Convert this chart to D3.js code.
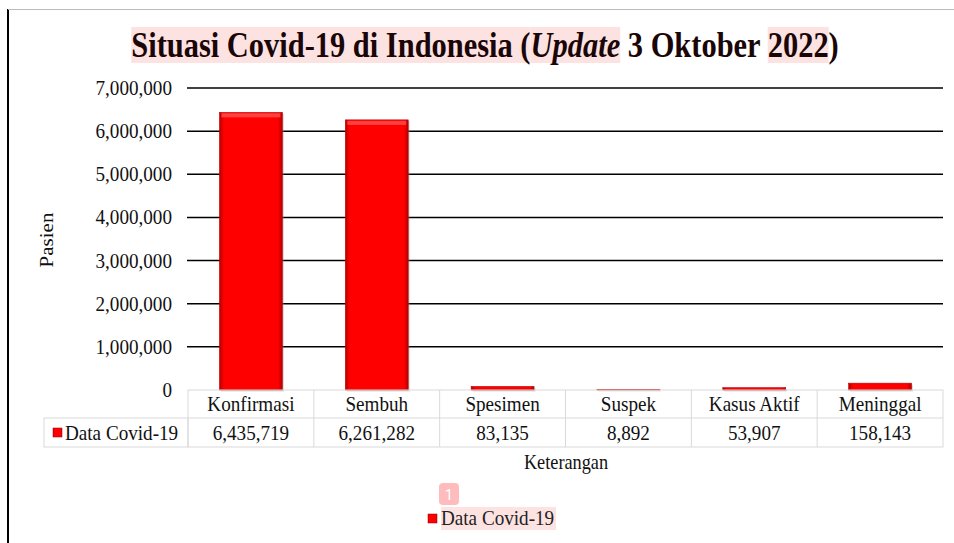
<!DOCTYPE html>
<html>
<head>
<meta charset="utf-8">
<script src="https://cdn.jsdelivr.net/npm/d3@7"></script>
<style>
  body { margin: 0; background: #fff; }
  svg { font-family: "Liberation Serif", "DejaVu Serif", serif; }
</style>
</head>
<body>
<div id="chart"></div>
<script>
const categories = ['Konfirmasi', 'Sembuh', 'Spesimen', 'Suspek', 'Kasus Aktif', 'Meninggal'];
const values = [6435719, 6261282, 83135, 8892, 53907, 158143];
const yTicks = [0, 1000000, 2000000, 3000000, 4000000, 5000000, 6000000, 7000000];
const seriesName = 'Data Covid-19';

const width = 954, height = 543;
const fmt = d3.format(',');
const SX = 0.87; // the source picture is horizontally squeezed

const svg = d3.select('#chart').append('svg')
    .attr('width', width)
    .attr('height', height);

// text helper: squeezed glyphs placed at (x, y)
function label(g, x, y, str, size, anchor) {
    return g.append('text')
        .attr('transform', `translate(${x},${y}) scale(${SX},1)`)
        .attr('text-anchor', anchor || 'start')
        .attr('font-size', size + 'px')
        .attr('fill', '#111')
        .text(str);
}

const defs = svg.append('defs');
const grad = defs.append('linearGradient').attr('id', 'barGrad')
    .attr('x1', '0%').attr('x2', '100%').attr('y1', '0%').attr('y2', '0%');
grad.append('stop').attr('offset', '0%').attr('stop-color', '#b40000');
grad.append('stop').attr('offset', '7%').attr('stop-color', '#ff0000');
grad.append('stop').attr('offset', '93%').attr('stop-color', '#ff0000');
grad.append('stop').attr('offset', '100%').attr('stop-color', '#b40000');

// outer frame
svg.append('line').attr('x1', 8).attr('x2', 8).attr('y1', 9).attr('y2', height)
    .attr('stroke', '#000').attr('stroke-width', 2);
svg.append('line').attr('x1', 8).attr('x2', width).attr('y1', 9.5).attr('y2', 9.5)
    .attr('stroke', '#bbb').attr('stroke-width', 1);

const x = d3.scaleBand().domain(categories).range([188, 943]).padding(0);
const y = d3.scaleLinear().domain([0, 7000000]).range([390, 88]);

// gridlines
svg.append('g').selectAll('line')
    .data(yTicks.filter(d => d > 0))
    .enter().append('line')
    .attr('x1', 187).attr('x2', 943)
    .attr('y1', d => y(d)).attr('y2', d => y(d))
    .attr('stroke', '#000').attr('stroke-width', 1.5);

// y tick labels
const yg = svg.append('g');
yTicks.forEach(d => label(yg, 172, y(d) + 7, fmt(d), 22, 'end'));

// bars
const bw = x.bandwidth() * 0.5;
const bars = svg.append('g').selectAll('g')
    .data(categories.map((c, i) => ({ c, v: values[i] })))
    .enter().append('g');
bars.append('rect')
    .attr('x', d => x(d.c) + (x.bandwidth() - bw) / 2 + 1.5)
    .attr('y', d => y(d.v) + 1.5)
    .attr('width', bw)
    .attr('height', d => 390 - y(d.v))
    .attr('fill', '#999').attr('opacity', 0.35);
bars.append('rect')
    .attr('x', d => x(d.c) + (x.bandwidth() - bw) / 2)
    .attr('y', d => y(d.v))
    .attr('width', bw)
    .attr('height', d => 390 - y(d.v))
    .attr('fill', 'url(#barGrad)')
    .attr('stroke', '#c00000').attr('stroke-width', 0.6);
bars.filter(d => 390 - y(d.v) > 20).append('rect')
    .attr('x', d => x(d.c) + (x.bandwidth() - bw) / 2 + 2)
    .attr('y', d => y(d.v) + 1)
    .attr('width', bw - 4)
    .attr('height', 4)
    .attr('fill', '#ff6a6a').attr('opacity', 0.6);

// data table
const tbl = svg.append('g');
const gridColor = '#d9d9d9';
tbl.append('rect').attr('x', 188).attr('y', 390).attr('width', 755).attr('height', 57)
    .attr('fill', 'none').attr('stroke', gridColor);
tbl.append('rect').attr('x', 44).attr('y', 418).attr('width', 144).attr('height', 29)
    .attr('fill', 'none').attr('stroke', gridColor);
tbl.append('line').attr('x1', 188).attr('x2', 943).attr('y1', 418).attr('y2', 418)
    .attr('stroke', gridColor);
tbl.selectAll('line.col')
    .data(categories.slice(1))
    .enter().append('line').attr('class', 'col')
    .attr('x1', d => x(d)).attr('x2', d => x(d))
    .attr('y1', 390).attr('y2', 447)
    .attr('stroke', gridColor);
categories.forEach((c, i) => {
    label(tbl, x(c) + x.bandwidth() / 2, 411, c, 22, 'middle');
    label(tbl, x(c) + x.bandwidth() / 2, 440, fmt(values[i]), 22, 'middle');
});
tbl.append('rect').attr('x', 53).attr('y', 428).attr('width', 9).attr('height', 9)
    .attr('fill', 'url(#barGrad)').attr('stroke', '#900').attr('stroke-width', 0.5);
label(tbl, 65, 440, seriesName, 22, 'start');

// axis titles
label(svg, 566, 469, 'Keterangan', 21, 'middle');
svg.append('text')
    .attr('transform', 'translate(53,240) rotate(-90) scale(1,' + SX + ')')
    .attr('text-anchor', 'middle')
    .attr('font-size', '21px').attr('fill', '#111')
    .text('Pasien');

// title with highlighted parts
const titleParts = [
    { t: 'Situasi Covid-19 di Indonesia (', hl: true, it: false },
    { t: 'Update', hl: true, it: true },
    { t: ' 3 Oktober ', hl: false, it: false },
    { t: '2022', hl: true, it: false },
    { t: ')', hl: false, it: false }
];
const titleG = svg.append('g');
const hlG = titleG.append('g');
let tx = 0;
titleParts.forEach(p => {
    const t = titleG.append('text')
        .attr('x', tx).attr('y', 0)
        .attr('font-size', '35px').attr('font-weight', 'bold')
        .attr('font-style', p.it ? 'italic' : 'normal')
        .attr('fill', '#1a0606')
        .style('white-space', 'pre')
        .text(p.t);
    const w = t.node().getComputedTextLength();
    if (p.hl) {
        hlG.append('rect').attr('x', tx).attr('y', -30).attr('width', w).attr('height', 36)
            .attr('fill', '#fde2e2');
    }
    tx += w;
});
titleG.attr('transform', `translate(${485 - tx * SX / 2},57) scale(${SX},1)`);

// legend
const lg = svg.append('g');
lg.append('rect').attr('x', 441).attr('y', 507).attr('width', 115).attr('height', 23)
    .attr('fill', '#fde2e2');
lg.append('rect').attr('x', 428).attr('y', 514).attr('width', 9).attr('height', 9)
    .attr('fill', 'url(#barGrad)').attr('stroke', '#900').attr('stroke-width', 0.5);
label(lg, 441, 525, seriesName, 22, 'start').attr('fill', '#222');
lg.append('rect').attr('x', 439).attr('y', 483).attr('width', 20).attr('height', 22)
    .attr('rx', 4).attr('fill', '#ffbcbc');
lg.append('text').attr('x', 449).attr('y', 500)
    .attr('text-anchor', 'middle')
    .attr('font-family', 'Roboto, sans-serif')
    .attr('font-size', '14px').attr('fill', '#fff')
    .text('1');
</script>
</body>
</html>
